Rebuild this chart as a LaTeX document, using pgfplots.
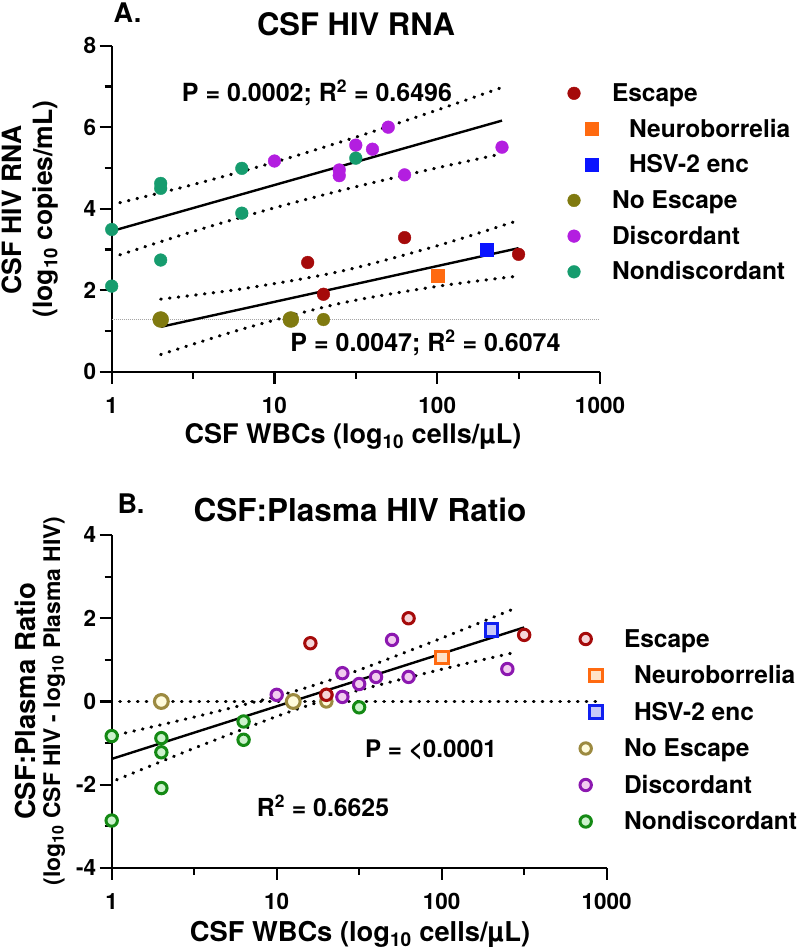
\documentclass[border=0pt]{standalone}
\usepackage{pgfplots}
\pgfplotsset{compat=1.18}
\usepackage{fontspec}
\setmainfont{TeX Gyre Heros}
\definecolor{escA}{HTML}{A50A0A}
\definecolor{neuA}{HTML}{FF6A10}
\definecolor{hsvA}{HTML}{0A14FF}
\definecolor{noeA}{HTML}{807A10}
\definecolor{disA}{HTML}{B31EE0}
\definecolor{nonA}{HTML}{169C6E}
\definecolor{escB}{HTML}{A50A0A}\definecolor{escBf}{HTML}{F5D5D8}
\definecolor{neuB}{HTML}{FF6A10}\definecolor{neuBf}{HTML}{FFE2C8}
\definecolor{hsvB}{HTML}{1020F0}\definecolor{hsvBf}{HTML}{C8C8F8}
\definecolor{noeB}{HTML}{9C8A40}\definecolor{noeBf}{HTML}{FFFBDC}
\definecolor{disB}{HTML}{8C18B0}\definecolor{disBf}{HTML}{F2CCEF}
\definecolor{nonB}{HTML}{148A14}\definecolor{nonBf}{HTML}{CCF2CC}
\newcommand{\fs}[1]{\fontsize{#1pt}{#1pt}\selectfont\bfseries}
\tikzset{
  dotband/.style={black, line width=3.2pt, line cap=round, dash pattern=on 0.6pt off 8.2pt},
  regline/.style={black, line width=2.4pt},
}
\begin{document}
\begin{tikzpicture}
\useasboundingbox (0pt,0pt) rectangle (800pt,949pt);
% ---------------- Panel A ----------------
\begin{axis}[scale only axis, xmode=log, xmin=1, xmax=1000,
  axis lines=left, axis line style={-, line width=2.2pt},
  xtick={1,10,100,1000}, xticklabels={1,10,100,1000},
  minor xtick={3.1623,31.623,316.23},
  tick align=outside, major tick length=12pt, minor tick length=7pt,
  tick style={black, line width=2.2pt},
  tick label style={font=\fs{22.5}},
  xticklabel style={yshift=-10pt},
  clip=false, legend cell align=left,
  at={(111.7pt,577.3pt)}, anchor=south west,
  width=488.3pt, height=326pt,
  ymin=0, ymax=8, ytick={0,2,4,6,8}, yticklabels={0,2,4,6,8}, minor ytick={1,3,5,7},
  legend style={draw=none, fill=none, at={(0.9304,0.8877)}, anchor=north west,
    inner sep=0pt, outer sep=0pt, row sep=13.7pt, column sep=12pt, font=\fs{24.5},
    nodes={inner sep=0pt, text height=19pt, text depth=3pt}},
]
\addplot[forget plot, gray!70, line width=0.7pt, dash pattern=on 1pt off 1pt] coordinates {(1,1.28) (980,1.28)};
\addplot[forget plot, regline] coordinates {(1,3.45) (250,6.162)};
\addplot[forget plot, dotband, smooth] coordinates {(1.122,4.147) (3.162,4.591) (10,5.141) (31.62,5.756) (100,6.422) (251,6.979)};
\addplot[forget plot, dotband, smooth] coordinates {(1.122,2.867) (3.162,3.441) (10,4.021) (31.62,4.538) (100,5.002) (251,5.349)};
\addplot[forget plot, regline] coordinates {(2,1.10) (316,3.031)};
\addplot[forget plot, dotband, smooth] coordinates {(2,1.78) (6.31,2.033) (25.1,2.457) (100,3.090) (316,3.715)};
\addplot[forget plot, dotband, smooth] coordinates {(2,0.42) (6.31,1.043) (25.1,1.673) (100,2.094) (316,2.347)};
\addplot[only marks, mark=*, mark size=6.35pt, color=escA, legend image code/.code={\path[draw=none,fill=none] (-8pt,-8pt) rectangle (26pt,8pt); \fill[escA] (0pt,0pt) circle (6.35pt);}] coordinates {(16,2.68) (20,1.90) (63,3.29) (316,2.88)};
\addlegendentry{Escape}
\addplot[only marks, mark=square*, mark size=6.5pt, color=neuA, legend image code/.code={\path[draw=none,fill=none] (-8pt,-8pt) rectangle (26pt,8pt); \fill[neuA] (11.5pt,-6.5pt) rectangle (24.5pt,6.5pt);}] coordinates {(100,2.35)};
\addlegendentry{\hspace{17pt}Neuroborrelia}
\addplot[only marks, mark=square*, mark size=6.5pt, color=hsvA, legend image code/.code={\path[draw=none,fill=none] (-8pt,-8pt) rectangle (26pt,8pt); \fill[hsvA] (11.5pt,-6.5pt) rectangle (24.5pt,6.5pt);}] coordinates {(200,3.00)};
\addlegendentry{\hspace{17pt}HSV-2 enc}
\addplot[forget plot, only marks, mark=*, mark size=8pt, color=noeA] coordinates {(2,1.28) (12.6,1.28)};
\addplot[only marks, mark=*, mark size=6.35pt, color=noeA, legend image code/.code={\path[draw=none,fill=none] (-8pt,-8pt) rectangle (26pt,8pt); \fill[noeA] (0pt,0pt) circle (6.35pt);}] coordinates {(20,1.28)};
\addlegendentry{No Escape}
\addplot[only marks, mark=*, mark size=6.35pt, color=disA, legend image code/.code={\path[draw=none,fill=none] (-8pt,-8pt) rectangle (26pt,8pt); \fill[disA] (0pt,0pt) circle (6.35pt);}] coordinates {(10,5.17) (25,4.95) (25,4.81) (31.6,5.56) (40,5.46) (50,6.00) (63,4.83) (250,5.51)};
\addlegendentry{Discordant}
\addplot[only marks, mark=*, mark size=6.35pt, color=nonA, legend image code/.code={\path[draw=none,fill=none] (-8pt,-8pt) rectangle (26pt,8pt); \fill[nonA] (0pt,0pt) circle (6.35pt);}] coordinates {(1,3.49) (1,2.10) (2,4.62) (2,4.50) (2,2.74) (6.3,4.99) (6.3,3.89) (31.6,5.24)};
\addlegendentry{Nondiscordant}
\end{axis}
% ---------------- Panel B ----------------
\begin{axis}[scale only axis, xmode=log, xmin=1, xmax=1000,
  axis lines=left, axis line style={-, line width=2.2pt},
  xtick={1,10,100,1000}, xticklabels={1,10,100,1000},
  minor xtick={3.1623,31.623,316.23},
  tick align=outside, major tick length=12pt, minor tick length=7pt,
  tick style={black, line width=2.2pt},
  tick label style={font=\fs{22.5}},
  xticklabel style={yshift=-10pt},
  clip=false, legend cell align=left,
  at={(111.7pt,81pt)}, anchor=south west,
  width=495pt, height=333pt,
  ymin=-4, ymax=4, ytick={-4,-2,0,2,4}, yticklabels={-4,-2,0,2,4}, minor ytick={-3,-1,1,3},
  legend style={draw=none, fill=none, at={(0.9414,0.7207)}, anchor=north west,
    inner sep=0pt, outer sep=0pt, row sep=14.5pt, column sep=20.3pt, font=\fs{24.5},
    nodes={inner sep=0pt, text height=19pt, text depth=3pt}},
]
\addplot[forget plot, dotband] coordinates {(1.12,0) (900,0)};
\addplot[forget plot, regline] coordinates {(1,-1.38) (316,1.78)};
\addplot[forget plot, dotband, smooth] coordinates {(1.072,-0.803) (3.162,-0.374) (10,0.126) (17.78,0.42) (31.62,0.758) (100,1.522) (288.4,2.264)};
\addplot[forget plot, dotband, smooth] coordinates {(1.072,-1.881) (3.162,-1.122) (10,-0.358) (17.78,-0.02) (31.62,0.274) (100,0.774) (288.4,1.194)};
\addplot[only marks, mark=*, mark size=5.7pt, mark options={draw=escB, fill=escBf, line width=3pt}, legend image code/.code={\path[draw=none,fill=none] (-8pt,-8pt) rectangle (18pt,8pt); \draw[escB, fill=escBf, line width=3pt] (0pt,0pt) circle (5.7pt);}] coordinates {(16,1.40) (20,0.16) (63,2.00) (316,1.60)};
\addlegendentry{Escape}
\addplot[only marks, mark=square*, mark size=6.3pt, mark options={draw=neuB, fill=neuBf, line width=3pt}, legend image code/.code={\path[draw=none,fill=none] (-8pt,-8pt) rectangle (18pt,8pt); \draw[neuB, fill=neuBf, line width=3pt] (3.7pt,-6.3pt) rectangle (16.3pt,6.3pt);}] coordinates {(100,1.06)};
\addlegendentry{\hspace{10pt}Neuroborrelia}
\addplot[only marks, mark=square*, mark size=6.3pt, mark options={draw=hsvB, fill=hsvBf, line width=3pt}, legend image code/.code={\path[draw=none,fill=none] (-8pt,-8pt) rectangle (18pt,8pt); \draw[hsvB, fill=hsvBf, line width=3pt] (3.7pt,-6.3pt) rectangle (16.3pt,6.3pt);}] coordinates {(200,1.72)};
\addlegendentry{\hspace{10pt}HSV-2 enc}
\addplot[forget plot, only marks, mark=*, mark size=6.9pt, mark options={draw=noeB, fill=noeBf, line width=3.1pt}] coordinates {(2,0) (12.6,0)};
\addplot[only marks, mark=*, mark size=5.7pt, mark options={draw=noeB, fill=noeBf, line width=3pt}, legend image code/.code={\path[draw=none,fill=none] (-8pt,-8pt) rectangle (18pt,8pt); \draw[noeB, fill=noeBf, line width=3pt] (0pt,0pt) circle (5.7pt);}] coordinates {(20,0)};
\addlegendentry{No Escape}
\addplot[only marks, mark=*, mark size=5.7pt, mark options={draw=disB, fill=disBf, line width=3pt}, legend image code/.code={\path[draw=none,fill=none] (-8pt,-8pt) rectangle (18pt,8pt); \draw[disB, fill=disBf, line width=3pt] (0pt,0pt) circle (5.7pt);}] coordinates {(10,0.16) (25,0.68) (25,0.11) (31.6,0.42) (40,0.59) (50,1.48) (63,0.59) (250,0.78)};
\addlegendentry{Discordant}
\addplot[only marks, mark=*, mark size=5.7pt, mark options={draw=nonB, fill=nonBf, line width=3pt}, legend image code/.code={\path[draw=none,fill=none] (-8pt,-8pt) rectangle (18pt,8pt); \draw[nonB, fill=nonBf, line width=3pt] (0pt,0pt) circle (5.7pt);}] coordinates {(1,-0.83) (1,-2.86) (2,-0.88) (2,-1.22) (2,-2.08) (6.3,-0.48) (6.3,-0.92) (31.6,-0.14)};
\addlegendentry{Nondiscordant}
\addplot[forget plot, only marks, mark=*, mark size=5.7pt, mark options={draw=escB, fill=escBf, line width=3pt}] coordinates {(20,0.16)};
\end{axis}
% ---------------- Texts ----------------
\node[font=\fs{27}, anchor=base, inner sep=0pt] at (127.5pt,926pt) {A.};
\node[font=\fs{31}, anchor=base, inner sep=0pt] at (356pt,913pt) {CSF HIV RNA};
\node[font=\fs{25}, anchor=base, inner sep=0pt] at (317pt,847.3pt) {P = 0.0002; R\textsuperscript{2} = 0.6496};
\node[font=\fs{25}, anchor=base, inner sep=0pt] at (425.5pt,597.3pt) {P = 0.0047; R\textsuperscript{2} = 0.6074};
\node[font=\fs{26.5}, anchor=base, inner sep=0pt, rotate=90] at (21.7pt,739pt) {CSF HIV RNA};
\node[font=\fs{26.5}, anchor=base, inner sep=0pt, rotate=90] at (52.4pt,740pt) {(log\textsubscript{10} copies/mL)};
\node[font=\fs{27}, anchor=base, inner sep=0pt] at (353pt,505.7pt) {CSF WBCs (log\textsubscript{10} cells/µL)};
\node[font=\fs{27}, anchor=base, inner sep=0pt] at (131pt,435.7pt) {B.};
\node[font=\fs{31.5}, anchor=base, inner sep=0pt] at (360pt,427.3pt) {CSF:Plasma HIV Ratio};
\node[font=\fs{24.2}, anchor=base, inner sep=0pt] at (431pt,191pt) {P = <0.0001};
\node[font=\fs{24.8}, anchor=base, inner sep=0pt] at (323pt,132.3pt) {R\textsuperscript{2} = 0.6625};
\node[font=\fs{27.5}, anchor=base, inner sep=0pt, rotate=90] at (35pt,247.5pt) {CSF:Plasma Ratio};
\node[font=\fs{22.9}, anchor=base, inner sep=0pt, rotate=90] at (60pt,248pt) {(log\textsubscript{10} CSF HIV - log\textsubscript{10} Plasma HIV)};
\node[font=\fs{27.3}, anchor=base, inner sep=0pt] at (360pt,7.5pt) {CSF WBCs (log\textsubscript{10} cells/µL)};
\end{tikzpicture}
\end{document}
